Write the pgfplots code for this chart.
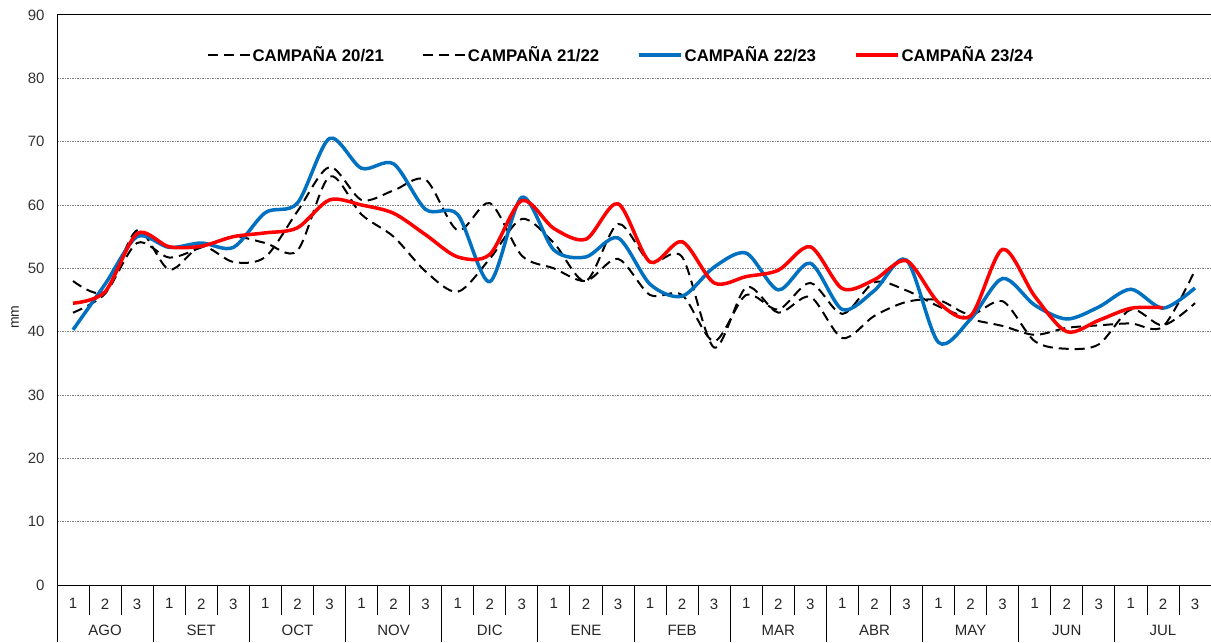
\documentclass[border=0pt]{standalone}
\usepackage{fontspec}
\setmainfont{Liberation Sans}
\usepackage{pgfplots}
\pgfplotsset{compat=1.18}
\definecolor{cblue}{RGB}{0,112,192}
\definecolor{cred}{RGB}{255,0,0}
\begin{document}
\begin{tikzpicture}
\begin{axis}[
  scale only axis, width=1154pt, height=570pt,
  xmin=0.5, xmax=36.5, ymin=0, ymax=90,
  ytick={0,10,...,90},
  xtick={1,...,36},
  xticklabels={1,{2\\AGO},3,1,{2\\SET},3,1,{2\\OCT},3,1,{2\\NOV},3,1,{2\\DIC},3,1,{2\\ENE},3,1,{2\\FEB},3,1,{2\\MAR},3,1,{2\\ABR},3,1,{2\\MAY},3,1,{2\\JUN},3,1,{2\\JUL},3},
  /pgf/number format/assume math mode=true,
  axis line style={draw=none},
  tick align=outside,
  xtick pos=left, ytick pos=left,
  major tick length=0pt,
  minor xtick={1.5,2.5,...,35.5},
  minor tick length=30pt,
  extra x ticks={0.5,3.5,...,36.5},
  extra x tick labels={},
  extra x tick style={major tick length=57pt, grid=none},
  every tick/.style={black, line width=0.8pt},
  ymajorgrids,
  grid style={black!50, line width=1pt, dash pattern=on 1.5pt off 1pt},
  xticklabel style={font=\fontsize{15}{26.5}\selectfont, align=center, text=black!85, yshift=-10pt},
  yticklabel style={font=\fontsize{15}{18}\selectfont, text=black!80, xshift=-9pt},
  legend columns=4,
  legend style={at={(0.4885,0.93)}, anchor=center, draw=none, fill=none,
    font=\bfseries\fontsize{16.8}{18}\selectfont,
    /tikz/every even column/.append style={column sep=36pt}},
  legend image code/.code={\draw[#1] (0pt,0pt) -- (42pt,0pt);},
]
\addplot[black, line width=2pt, dash pattern=on 10pt off 6pt, smooth] coordinates {
(1,48) (2,46.3) (3,56) (4,49.8) (5,53.5) (6,51) (7,51.8) (8,59) (9,66) (10,60.8) (11,62.3) (12,64)
(13,56) (14,60.3) (15,52) (16,50) (17,48) (18,51.5) (19,45.8) (20,45.8) (21,38.5) (22,45.8) (23,43.5) (24,47.7)
(25,42.8) (26,47.8) (27,46.5) (28,44) (29,42) (30,40.9) (31,39.5) (32,40.6) (33,41) (34,41.3) (35,40.8) (36,49.7)};
\addlegendentry{CAMPAÑA 20/21}
\addplot[black, line width=2pt, dash pattern=on 10pt off 6pt, smooth] coordinates {
(1,43) (2,46) (3,54) (4,51.7) (5,53.3) (6,55) (7,54) (8,52.8) (9,64.5) (10,58.5) (11,55) (12,49.5)
(13,46.3) (14,51.5) (15,57.8) (16,54) (17,48) (18,57) (19,51) (20,51.8) (21,37.5) (22,47) (23,43) (24,45.5)
(25,39) (26,42.5) (27,44.7) (28,45) (29,42.7) (30,44.8) (31,38.5) (32,37.3) (33,38) (34,43.5) (35,41) (36,44.5)};
\addlegendentry{CAMPAÑA 21/22}
\addplot[cblue, line width=3.5pt, smooth] coordinates {
(1,40.3) (2,47.5) (3,55) (4,53.3) (5,54) (6,53.3) (7,58.8) (8,60.3) (9,70.5) (10,65.8) (11,66.5) (12,59.3)
(13,58.5) (14,47.9) (15,61.2) (16,52.9) (17,51.8) (18,54.8) (19,47.5) (20,45.6) (21,50.2) (22,52.4) (23,46.6) (24,50.8)
(25,43.5) (26,46.5) (27,51.3) (28,38.3) (29,42) (30,48.4) (31,44.2) (32,42) (33,43.9) (34,46.7) (35,43.7) (36,46.9)};
\addlegendentry{CAMPAÑA 22/23}
\addplot[cred, line width=3.5pt, smooth] coordinates {
(1,44.5) (2,46.3) (3,55.5) (4,53.4) (5,53.5) (6,55) (7,55.6) (8,56.4) (9,60.8) (10,60) (11,58.7) (12,55.3)
(13,51.8) (14,52.2) (15,60.7) (16,56.3) (17,54.6) (18,60.2) (19,51) (20,54.2) (21,47.7) (22,48.7) (23,49.7) (24,53.4)
(25,46.8) (26,48.2) (27,51.2) (28,44.6) (29,42.5) (30,53) (31,45.6) (32,40) (33,41.8) (34,43.7) (35,43.8)};
\addlegendentry{CAMPAÑA 23/24}
\draw[black, line width=1pt] (rel axis cs:0,0) -- (rel axis cs:1,0);
\draw[black, line width=1pt] (rel axis cs:0,0) -- (rel axis cs:0,1) -- (rel axis cs:1,1);
\coordinate (ll) at (rel axis cs:0,0);
\coordinate (ur) at (rel axis cs:1,1);
\coordinate (ml) at (rel axis cs:0,0.47);
\end{axis}
\node[rotate=90, font=\fontsize{14}{16}\selectfont, text=black!85] at ([xshift=-42pt]ml) {mm};
\pgfresetboundingbox
\path ([shift={(-57pt,-57pt)}]ll) rectangle ([shift={(0pt,15pt)}]ur);
\end{tikzpicture}
\end{document}
